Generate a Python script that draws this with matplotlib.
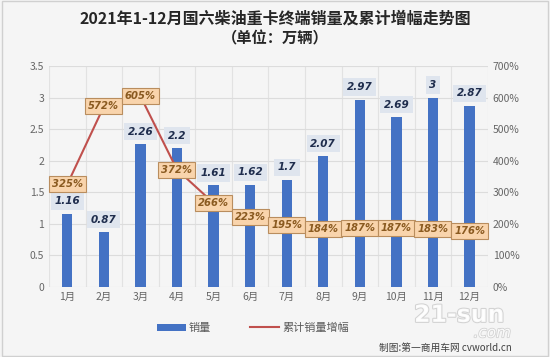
import matplotlib.pyplot as plt
import matplotlib.patheffects as pe
import numpy as np

plt.rcParams['font.family'] = ['Noto Sans CJK SC', 'DejaVu Sans']

months = ['1月', '2月', '3月', '4月', '5月', '6月', '7月', '8月', '9月', '10月', '11月', '12月']
sales = [1.16, 0.87, 2.26, 2.2, 1.61, 1.62, 1.7, 2.07, 2.97, 2.69, 3, 2.87]
growth = [325, 572, 605, 372, 266, 223, 195, 184, 187, 187, 183, 176]
y_ticks = [0, 0.5, 1, 1.5, 2, 2.5, 3, 3.5]
pct_ticks = [0, 100, 200, 300, 400, 500, 600, 700]

bg = '#f5f5f5'
fig = plt.figure(figsize=(5.5, 3.57), dpi=100, facecolor=bg)
ax = fig.add_axes([0.089, 0.196, 0.798, 0.619])
ax.set_facecolor(bg)
x = np.arange(len(months))

bars = ax.bar(x, sales, width=0.28, color='#4472c4', zorder=3, label='销量')
ax.set_xlim(-0.5, len(months) - 0.5)
ax.set_ylim(0, 3.5)
ax.set_yticks(y_ticks)
ax.set_yticklabels([('%g' % v) for v in y_ticks])
ax.set_xticks(x)
ax.set_xticklabels(months)
ax.set_xticks(np.arange(-0.5, len(months), 1), minor=True)
ax.grid(axis='y', color='#dcdcdc', lw=0.8, zorder=0)
ax.grid(axis='x', which='minor', color='#e2e2e2', lw=0.8, zorder=0)
ax.tick_params(axis='both', which='both', length=0, labelsize=7.5, colors='#666666')
for s in ax.spines.values():
    s.set_visible(False)

for xi, v in zip(x, sales):
    ax.annotate('%g' % v, (xi, v), xytext=(0, 9), textcoords='offset points',
                ha='center', va='center', fontsize=7.5, fontweight='bold', style='italic',
                family='DejaVu Sans', color='#1f2d4d', zorder=5,
                bbox=dict(boxstyle='square,pad=0.35', fc='#dfe5ee', ec='none'))

ax2 = ax.twinx()
ax2.plot(x, growth, color='#c0504d', lw=1.5, zorder=4, label='累计销量增幅')
ax2.set_ylim(0, 700)
ax2.set_yticks(pct_ticks)
ax2.set_yticklabels(['%d%%' % v for v in pct_ticks])
ax2.tick_params(axis='y', length=0, labelsize=7.5, colors='#666666')
for s in ax2.spines.values():
    s.set_visible(False)
for xi, v in zip(x, growth):
    ax2.text(xi, v, '%d%%' % v, ha='center', va='center', fontsize=7.2,
             fontweight='bold', style='italic', family='DejaVu Sans', color='#8a5a20', zorder=6,
             bbox=dict(boxstyle='square,pad=0.3', fc='#f9d4ac', ec='#b98d5e', lw=0.8))

fig.text(0.5, 0.948, '2021年1-12月国六柴油重卡终端销量及累计增幅走势图', ha='center', va='center',
         fontsize=11.5, fontweight='bold', color='#262626')
fig.text(0.5, 0.893, '（单位：万辆）', ha='center', va='center',
         fontsize=11, fontweight='bold', color='#262626')

h1, l1 = ax.get_legend_handles_labels()
h2, l2 = ax2.get_legend_handles_labels()
fig.legend(h1 + h2, l1 + l2, loc='center', bbox_to_anchor=(0.46, 0.081), ncol=2,
           frameon=False, fontsize=8, labelcolor='#595959', handlelength=2.6,
           handleheight=0.6, columnspacing=3.5, handletextpad=0.3)

# watermark, kept below the tick labels
fig.text(0.835, 0.118, '21-sun', ha='center', va='center', fontsize=17, fontweight='bold',
         color='white', alpha=0.9, family='DejaVu Sans',
         path_effects=[pe.withStroke(linewidth=1.5, foreground='#cfcfcf')])
fig.text(0.895, 0.068, '.com', ha='center', va='center', fontsize=11, style='italic',
         color='white', alpha=0.9, family='DejaVu Sans',
         path_effects=[pe.withStroke(linewidth=1.2, foreground='#cfcfcf')])
fig.text(0.93, 0.025, '制图:第一商用车网 cvworld.cn', ha='right', va='center', fontsize=7,
         color='#404040')

fig.patches.append(plt.Rectangle((0.004, 0.004), 0.992, 0.992, transform=fig.transFigure,
                                 fill=False, ec='#d0d0d0', lw=1))
fig.savefig('out.png', dpi=100, facecolor=bg)
